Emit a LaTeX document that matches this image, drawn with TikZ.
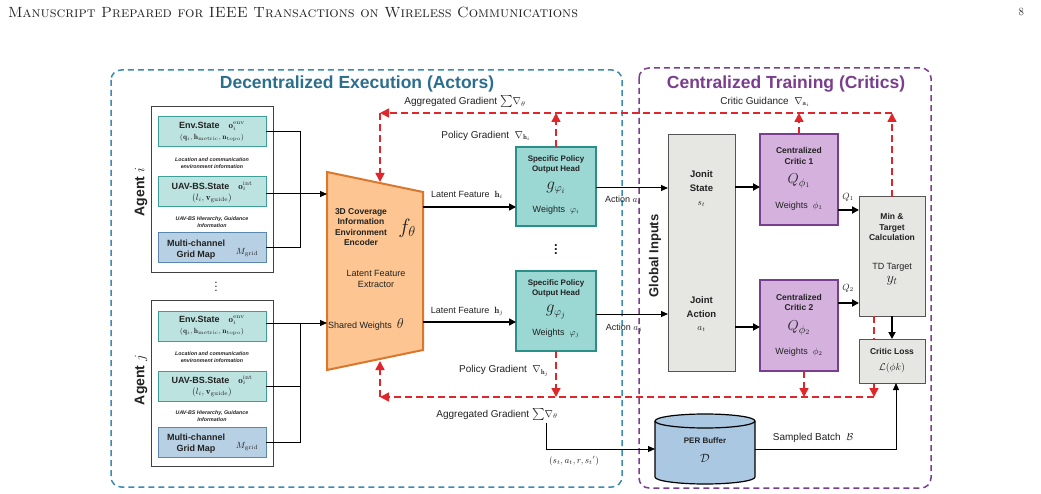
\documentclass[tikz,border=0pt]{standalone}
\usepackage{fontspec}
\setsansfont{Liberation Sans}
\renewcommand{\familydefault}{\sfdefault}
\usepackage{amsmath,amssymb}
\usetikzlibrary{arrows.meta,calc}

\definecolor{actblue}{HTML}{3A8DB0}
\definecolor{acttitle}{HTML}{2B6E8E}
\definecolor{critpurple}{HTML}{7A3E8E}
\definecolor{envfill}{HTML}{BCE3E0}
\definecolor{envdraw}{HTML}{3E9E98}
\definecolor{gridfill}{HTML}{B8D0E4}
\definecolor{griddraw}{HTML}{5A87AE}
\definecolor{headfill}{HTML}{9BD8D3}
\definecolor{headdraw}{HTML}{2A8F89}
\definecolor{encfill}{HTML}{FCC591}
\definecolor{encdraw}{HTML}{D9782D}
\definecolor{critfill}{HTML}{D4B2DD}
\definecolor{grayfill}{HTML}{E6E6E3}
\definecolor{graydraw}{HTML}{555555}
\definecolor{perfill}{HTML}{AAC8E2}
\definecolor{gradred}{HTML}{E0262A}
\definecolor{txt}{HTML}{222222}

\tikzset{
 every node/.style={inner sep=0pt, outer sep=0pt, text=txt},
 box/.style={draw, rectangle, align=center},
 envbox/.style={box, fill=envfill, draw=envdraw, line width=1pt, font=\sffamily\fontsize{9}{12}\selectfont},
 gridbox/.style={box, fill=gridfill, draw=griddraw, line width=1pt},
 agentbox/.style={box, fill=white, draw=black!75, line width=0.8pt},
 headbox/.style={box, fill=headfill, draw=headdraw, line width=2pt},
 critbox/.style={box, fill=critfill, draw=critpurple, line width=2pt},
 graybox/.style={box, fill=grayfill, draw=graydraw, line width=1pt},
 lbl/.style={font=\sffamily\fontsize{10}{12}\selectfont, align=center},
 slbl/.style={font=\sffamily\fontsize{9}{11}\selectfont, align=center},
 blab/.style={font=\sffamily\bfseries\fontsize{8.5}{10.5}\selectfont, align=center},
 tinytxt/.style={font=\sffamily\bfseries\itshape\fontsize{5.3}{7}\selectfont, align=center},
 bigm/.style={font=\fontsize{16}{18}\selectfont},
 arr/.style={-{Triangle[length=7pt,width=6pt]}, line width=1pt},
 thickarr/.style={-{Triangle[length=7pt,width=7pt]}, line width=2pt},
 grad/.style={gradred, line width=1.5pt, dash pattern=on 7pt off 4pt, -{Triangle[length=9pt,width=9pt]}},
}

\begin{document}
\begin{tikzpicture}[x=1pt,y=-1pt,font=\sffamily]
\useasboundingbox (0,0) rectangle (1041,494);
\fill[white] (0,0) rectangle (1041,494);

% header
\node[anchor=west, font=\rmfamily] (hdr) at (8,12) {\resizebox{570pt}{!}{\rmfamily\textsc{Manuscript Prepared for IEEE Transactions on Wireless Communications}}};
\node[anchor=east, font=\rmfamily\fontsize{11}{12}\selectfont] (pg) at (1024,12) {8};

% frames
\draw[actblue, line width=1.5pt, dash pattern=on 6pt off 4pt, rounded corners=10pt] (111,70) rectangle (622,487);
\draw[critpurple, line width=1.5pt, dash pattern=on 6pt off 4pt, rounded corners=10pt] (639,68) rectangle (931,488);
\node[font=\sffamily\bfseries\fontsize{17.5}{20}\selectfont, text=acttitle] (t1) at (357,84) {Decentralized Execution (Actors)};
\node[font=\sffamily\bfseries\fontsize{17.5}{20}\selectfont, text=critpurple] (t2) at (786,84) {Centralized Training (Critics)};

% ---------- Agent i ----------
\node[agentbox, minimum width=122, minimum height=166] (agi) at (212,189) {};
\node[envbox, minimum width=108, minimum height=30] (ei) at (212,132) {\textbf{Env.State}\quad $\mathbf{o}_i^{\mathrm{env}}$\\[-1pt] {\fontsize{7.5}{8}\selectfont $(\mathbf{q}_i,\mathbf{h}_{\mathrm{metric}},\mathbf{n}_{\mathrm{topo}})$}};
\node[tinytxt] (li) at (212,163.5) {Location and communication\\environment information};
\node[envbox, minimum width=108, minimum height=30] (ui) at (212,192) {\textbf{UAV-BS.State}\quad $\mathbf{o}_i^{\mathrm{int}}$\\[-1pt] $(l_i,\mathbf{v}_{\mathrm{guide}})$};
\node[tinytxt] (hi) at (212,222) {UAV-BS Hierarchy, Guidance\\Information};
\node[gridbox, minimum width=108, minimum height=30] (gi) at (212,248) {};
\node[font=\sffamily\bfseries\fontsize{9}{11}\selectfont, align=center] (git) at (196,249.5) {Multi-channel\\Grid Map};
\node[font=\fontsize{9}{10}\selectfont] (gim) at (247,253) {$M_{\mathrm{grid}}$};
\node[rotate=90, font=\sffamily\bfseries\fontsize{14}{16}\selectfont] (lai) at (141,192) {Agent $i$};

\node[font=\fontsize{12}{12}\selectfont] (dots1) at (216,284) {$\vdots$};

% ---------- Agent j ----------
\node[agentbox, minimum width=122, minimum height=166] (agj) at (212,383) {};
\node[envbox, minimum width=108, minimum height=30] (ej) at (212,326) {\textbf{Env.State}\quad $\mathbf{o}_i^{\mathrm{env}}$\\[-1pt] {\fontsize{7.5}{8}\selectfont $(\mathbf{q}_i,\mathbf{h}_{\mathrm{metric}},\mathbf{n}_{\mathrm{topo}})$}};
\node[tinytxt] (lj) at (212,357.5) {Location and communication\\environment information};
\node[envbox, minimum width=108, minimum height=30] (uj) at (212,386) {\textbf{UAV-BS.State}\quad $\mathbf{o}_i^{\mathrm{int}}$\\[-1pt] $(l_i,\mathbf{v}_{\mathrm{guide}})$};
\node[tinytxt] (hj) at (212,416) {UAV-BS Hierarchy, Guidance\\Information};
\node[gridbox, minimum width=108, minimum height=30] (gj) at (212,442) {};
\node[font=\sffamily\bfseries\fontsize{9}{11}\selectfont, align=center] (gjt) at (196,443.5) {Multi-channel\\Grid Map};
\node[font=\fontsize{9}{10}\selectfont] (gjm) at (247,447) {$M_{\mathrm{grid}}$};
\node[rotate=90, font=\sffamily\bfseries\fontsize{14}{16}\selectfont] (laj) at (141,380) {Agent $j$};

% ---------- Encoder ----------
\draw[fill=encfill, draw=encdraw, line width=2pt, line join=miter] (327,172) -- (423,192) -- (423,350) -- (327,370) -- cycle;
\node[minimum width=96, minimum height=198] (enc) at (375,271) {};
\coordinate (enctop) at (380,182);
\coordinate (encbot) at (380,361);
\node[blab] (enct) at (361,227) {3D Coverage\\Information\\Environment\\Encoder};
\node[font=\fontsize{22}{24}\selectfont] (encf) at (407,228) {$f_\theta$};
\node[slbl] (encx) at (376,279) {Latent Feature\\Extractor};
\node[slbl] (encw) at (366,324) {Shared Weights\ \ {\fontsize{14}{14}\selectfont$\theta$}};

% bus lines agent i
\coordinate (busi) at (300,194);
\draw[line width=1pt] (ei.east) -| (busi);
\draw[line width=1pt] (gi.east) -| (busi);
\draw[line width=1pt] (ui.east |- busi) -- (busi);
\draw[arr] (busi) -- (busi -| enc.west);
% bus lines agent j
\coordinate (busj) at (300,323);
\draw[arr] (ej.east |- busj) -- (busj -| enc.west);
\draw[line width=1pt] (gj.east) -| (busj);
\draw[line width=1pt] (uj.east) -- (uj.east -| busj);

% ---------- Policy heads ----------
\node[headbox, minimum width=80, minimum height=79] (phi) at (556,186.5) {};
\node[font=\sffamily\bfseries\fontsize{8}{10}\selectfont, align=center] (phit) at (556,164) {Specific Policy\\Output Head};
\node[bigm] (phig) at (556,188) {$g_{\varphi_i}$};
\node[slbl] (phiw) at (556,210) {Weights\ \ $\varphi_i$};

\node[headbox, minimum width=80, minimum height=79] (phj) at (556,311) {};
\node[font=\sffamily\bfseries\fontsize{8}{10}\selectfont, align=center] (phjt) at (556,288) {Specific Policy\\Output Head};
\node[bigm] (phjg) at (556,312) {$g_{\varphi_j}$};
\node[slbl] (phjw) at (556,333) {Weights\ \ $\varphi_j$};

\node[font=\bfseries\fontsize{13}{13}\selectfont] (dots2) at (556,247) {$\vdots$};

% latent features
\coordinate (lfi) at (423,207);
\coordinate (lfj) at (423,322);
\draw[thickarr, line width=1.6pt] (lfi) -- (lfi -| phi.west);
\draw[thickarr, line width=1.6pt] (lfj) -- (lfj -| phj.west);
\node[slbl] (lfit) at (467,195) {Latent Feature\ \ $\mathbf{h}_i$};
\node[slbl] (lfjt) at (467,311) {Latent Feature\ \ $\mathbf{h}_j$};

% ---------- Joint box ----------
\node[graybox, minimum width=67, minimum height=236] (joint) at (701.5,253) {};
\node[font=\sffamily\bfseries\fontsize{9.5}{14}\selectfont, align=center] (js) at (701.5,181) {Jonit\\State};
\node[font=\fontsize{9}{10}\selectfont] (jsm) at (701.5,204) {$s_t$};
\node[font=\sffamily\bfseries\fontsize{9.5}{14}\selectfont, align=center] (ja) at (701.5,307.5) {Joint\\Action};
\node[font=\fontsize{9}{10}\selectfont] (jam) at (701.5,329) {$a_t$};
\node[rotate=90, font=\sffamily\bfseries\fontsize{13}{15}\selectfont] (gin) at (655,256) {Global Inputs};

% actions
\draw[arr] (phi.east |- 0,188) -- (joint.west |- 0,188);
\draw[arr] (phj.east |- 0,314) -- (joint.west |- 0,314);
\node[slbl] (acti) at (623,200) {Action\ $a_i$};
\node[slbl] (actj) at (624,328) {Action\ $a_j$};

% ---------- Critics ----------
\node[critbox, minimum width=78, minimum height=91] (c1) at (799,179.5) {};
\node[blab] (c1t) at (799,156) {Centralized\\Critic 1};
\node[font=\fontsize{15}{16}\selectfont] (c1q) at (799,181) {$Q_{\phi_1}$};
\node[slbl] (c1w) at (799,206) {Weights\ \ $\phi_1$};

\node[critbox, minimum width=78, minimum height=91] (c2) at (799,325.5) {};
\node[blab] (c2t) at (799,302.5) {Centralized\\Critic 2};
\node[font=\fontsize{15}{16}\selectfont] (c2q) at (799,328) {$Q_{\phi_2}$};
\node[slbl] (c2w) at (799,352) {Weights\ \ $\phi_2$};

\draw[thickarr] (joint.east |- 0,187) -- (c1.west |- 0,187);
\draw[thickarr] (joint.east |- 0,327) -- (c2.west |- 0,327);

% ---------- Min & target ----------
\node[graybox, minimum width=66, minimum height=119] (mt) at (892,256.5) {};
\node[blab] (mtt) at (892,227) {Min \&\\Target\\Calculation};
\node[slbl] (mtd) at (892,267) {TD Target};
\node[font=\fontsize{14}{14}\selectfont] (mty) at (892,281) {$y_t$};

\coordinate (q1) at (838,210);
\coordinate (q2) at (838,303);
\draw[thickarr] (q1) -- (q1 -| mt.west);
\draw[thickarr] (q2) -- (q2 -| mt.west);
\node[font=\fontsize{9}{10}\selectfont] (q1t) at (848,197) {$Q_1$};
\node[font=\fontsize{9}{10}\selectfont] (q2t) at (848,288) {$Q_2$};

% red dashed (min -> bottom), drawn below loss box
\coordinate (mtdn) at ($(mt.south)+(-18,0)$);
\coordinate (bl) at (380,397);
\coordinate (br) at (874,397);
\draw[grad] (mtdn) -- (mtdn |- br);

% ---------- Critic loss ----------
\node[graybox, minimum width=66, minimum height=44] (loss) at (892,361) {};
\node[blab] (losst) at (892,351) {Critic Loss};
\node[font=\fontsize{10}{11}\selectfont] (lossm) at (892,368) {$\mathcal{L}(\phi k)$};
\draw[thickarr] (mt.south) -- (loss.north);

% ---------- PER buffer ----------
\fill[perfill] (655,421) -- (655,477) arc[start angle=180,end angle=360,x radius=50pt,y radius=7pt] -- (755,421) -- cycle;
\draw[line width=1.2pt] (655,421) -- (655,477) arc[start angle=180,end angle=360,x radius=50pt,y radius=7pt] -- (755,421);
\draw[fill=perfill, line width=1.2pt] (705,421) ellipse [x radius=50pt, y radius=7pt];
\node[minimum width=100, minimum height=63] (per) at (705,449) {};
\node[font=\sffamily\bfseries\fontsize{8}{10}\selectfont] (pert) at (705,441) {PER Buffer};
\node[font=\fontsize{12}{12}\selectfont] (perd) at (705,458) {$\mathcal{D}$};

\coordinate (lossin) at ($(loss.south)+(4,0)$);
\draw[arr] (per.east) -| (lossin);
\node[lbl] (sb) at (813,438) {Sampled Batch\ \ $\mathcal{B}$};

% bottom black path
\coordinate (aggb) at (546,423);
\draw[arr] (aggb) |- (per.west);
\node[font=\fontsize{9}{10}\selectfont] (tup) at (574,461) {$(s_t,a_t,r,s_t{'})$};

% ---------- red dashed gradients ----------
\coordinate (tl) at (380,113);
\coordinate (tr) at (892,113);
\draw[grad] (tr) -- (tl);
\draw[grad] (tl) -- (enctop);
\draw[grad] (phi.north) -- (phi.north |- tl);
\draw[grad] (c1.north) -- (c1.north |- tl);
\draw[grad] (mt.north) -- (tr);

\draw[grad] (br) -- (bl);
\draw[grad] (bl) -- (encbot);
\draw[grad] (phj.south) -- (phj.south |- bl);
\coordinate (c2d) at ($(c2.south)+(5,0)$);
\draw[grad] (c2d) -- (c2d |- bl);

% gradient labels
\node[lbl] (agt) at (465,102) {Aggregated Gradient\ {\fontsize{12}{12}\selectfont$\sum$}$\nabla_{\theta}$};
\node[lbl] (cg) at (765,102) {Critic Guidance\ \ $\nabla_{\mathbf{a}_i}$};
\node[lbl] (pgi) at (486,136) {Policy Gradient\ \ $\nabla_{\mathbf{h}_i}$};
\node[lbl] (pgj) at (504,371) {Policy Gradient\ \ $\nabla_{\mathbf{h}_j}$};
\node[lbl] (agb) at (497,414) {Aggregated Gradient\ {\fontsize{12}{12}\selectfont$\sum$}$\nabla_{\theta}$};
\end{tikzpicture}
\end{document}
